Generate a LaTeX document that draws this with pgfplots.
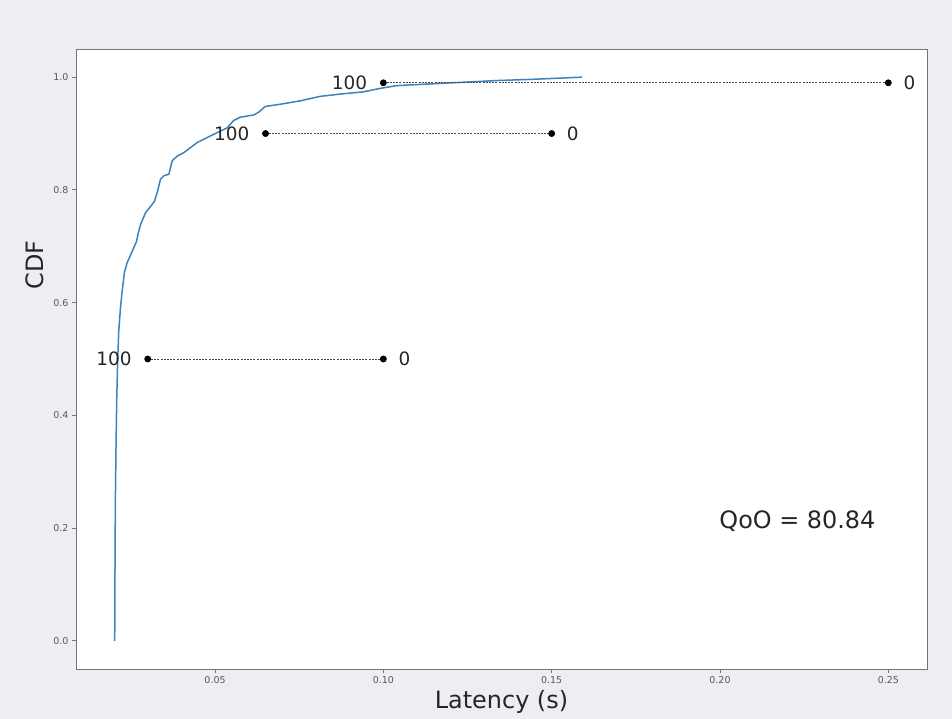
\documentclass[border=0pt]{standalone}
\usepackage{pgfplots}
\pgfplotsset{compat=1.18}
\usepackage{fontspec}
\setmainfont{DejaVu Sans}
\definecolor{bg}{RGB}{236,238,242}
\definecolor{cdfblue}{RGB}{62,130,185}
\begin{document}
\begin{tikzpicture}[x=1bp,y=1bp]
\path[use as bounding box] (0,0) rectangle (952,719);
\fill[bg] (0,0) rectangle (952,719);
\begin{axis}[
  at={(76bp,50bp)}, anchor=south west,
  width=851bp, height=620bp, scale only axis,
  xmin=0.0087, xmax=0.2615, ymin=-0.05, ymax=1.05,
  clip=false,
  axis background/.style={fill=white},
  axis line style={black!55, line width=0.8bp},
  xtick={0.05,0.10,0.15,0.20,0.25},
  xticklabels={0.05,0.10,0.15,0.20,0.25},
  ytick={0,0.2,0.4,0.6,0.8,1.0},
  yticklabels={0.0,0.2,0.4,0.6,0.8,1.0},
  xtick pos=bottom, ytick pos=left,
  tick align=outside, major tick length=4bp,
  tick style={black!55, line width=0.8bp},
  ticklabel style={font=\fontsize{9.5}{10}\selectfont, text=black!65},
  xlabel={Latency (s)},
  xlabel style={font=\fontsize{24}{28}\selectfont, text=black!85},
]
\addplot[cdfblue, line width=1.5bp] coordinates {
(0.0202,0) (0.0203,0.15) (0.0204,0.25) (0.0206,0.35) (0.0208,0.43)
(0.0211,0.50) (0.0214,0.55) (0.0219,0.59) (0.0224,0.62) (0.0231,0.654)
(0.0239,0.671) (0.0254,0.691) (0.0267,0.709) (0.0271,0.721) (0.0279,0.739)
(0.0294,0.760) (0.0313,0.774) (0.0320,0.780) (0.0328,0.795) (0.0338,0.819)
(0.0348,0.825) (0.0363,0.828) (0.0373,0.852) (0.0388,0.860) (0.0407,0.866)
(0.0427,0.875) (0.0447,0.884) (0.0477,0.893) (0.0501,0.900) (0.0536,0.910)
(0.0555,0.923) (0.0575,0.929) (0.0615,0.933) (0.0630,0.938) (0.0649,0.948)
(0.0694,0.952) (0.0753,0.958) (0.0813,0.966) (0.0872,0.970) (0.0941,0.974)
(0.0990,0.980) (0.1040,0.985) (0.1139,0.988) (0.1238,0.991) (0.1337,0.994)
(0.1435,0.996) (0.1590,1.0)
};
\tikzset{ref/.style={black!70, line width=0.8bp, dash pattern=on 2bp off 1.2bp, mark=*, mark size=3bp, mark options={solid, black}}}
\addplot[ref] coordinates {(0.03,0.5) (0.10,0.5)};
\addplot[ref] coordinates {(0.065,0.9) (0.15,0.9)};
\addplot[ref] coordinates {(0.10,0.99) (0.25,0.99)};
\tikzset{lab/.style={font=\fontsize{18.5}{20}\selectfont, text=black!85, inner sep=0pt}}
\node[lab, anchor=east] at ([xshift=-16bp]axis cs:0.03,0.5) {100};
\node[lab, anchor=west] at ([xshift=15bp]axis cs:0.10,0.5) {0};
\node[lab, anchor=east] at ([xshift=-16bp]axis cs:0.065,0.9) {100};
\node[lab, anchor=west] at ([xshift=15bp]axis cs:0.15,0.9) {0};
\node[lab, anchor=east] at ([xshift=-16bp]axis cs:0.10,0.99) {100};
\node[lab, anchor=west] at ([xshift=15bp]axis cs:0.25,0.99) {0};
\node[font=\fontsize{24}{28}\selectfont, text=black!85] at (axis cs:0.223,0.213) {QoO = 80.84};
\end{axis}
\node[rotate=90, font=\fontsize{24}{28}\selectfont, text=black!85] at (35,454) {CDF};
\end{tikzpicture}
\end{document}
